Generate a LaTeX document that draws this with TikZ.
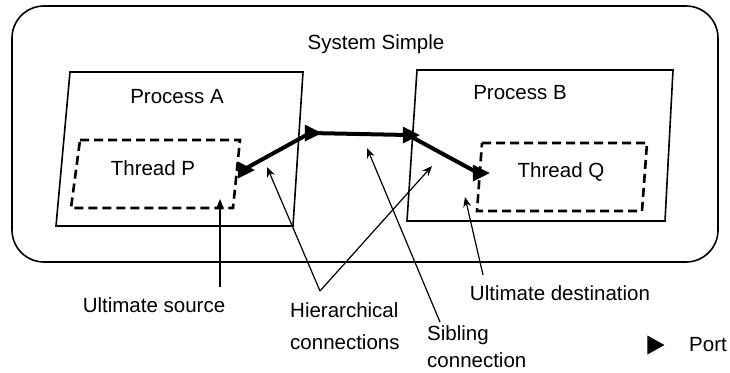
\documentclass[tikz,border=0pt]{standalone}
\usepackage{fontspec}
\setmainfont{Liberation Sans}
\usetikzlibrary{shapes.geometric,arrows.meta}
\tikzset{
    label/.style={inner sep=0pt, font=\fontsize{20.5}{23}\selectfont},
    port/.style={isosceles triangle, isosceles triangle stretches, fill=black,
        inner sep=0pt, minimum width=17pt, minimum height=17pt},
    link/.style={line width=4pt, line join=round},
    note/.style={line width=1.2pt, -{Stealth[length=10pt,width=8pt]}}
}
\begin{document}
\begin{tikzpicture}[x=1pt, y=-1pt]
    \useasboundingbox (0, 0) rectangle (730, 372);
    % system
    \draw [line width=1.6pt, rounded corners=32pt] (12, 6) rectangle (718, 262);
    \node [label] (sys) at (376, 44) {System Simple};
    % process A
    \draw [line width=1.6pt] (70, 72)
    -- (303, 72)
    -- (293, 226)
    -- (56, 226)
    -- cycle;
    \node [label] (procA) at (177, 97) {Process A};
    % thread P
    \draw [line width=2.6pt, dash pattern=on 9pt off 5pt] (80, 140)
    -- (240, 140)
    -- (233, 208)
    -- (71, 208)
    -- cycle;
    \node [label] (thrP) at (153, 168) {Thread P};
    % process B
    \draw [line width=1.6pt] (417, 70)
    -- (673, 70)
    -- (665, 221)
    -- (407, 221)
    -- cycle;
    \node [label] (procB) at (520, 93) {Process B};
    % thread Q
    \draw [line width=2.6pt, dash pattern=on 9pt off 5pt] (482, 143)
    -- (647, 143)
    -- (642, 211)
    -- (477, 211)
    -- cycle;
    \node [label] (thrQ) at (561, 172) {Thread Q};
    % ports
    \node [port] (p1) at (243, 170) {};
    \node [port] (p2) at (310, 133) {};
    \node [port] (p3) at (408, 135) {};
    \node [port] (p4) at (478, 173) {};
    \draw [link] (p1.center) -- (p2.center) -- (p3.center) -- (p4.center);
    % labels
    \node [label] (src) at (154, 305) {Ultimate source};
    \node [label, anchor=west] (hier) at (290, 310) {Hierarchical};
    \node [label, anchor=west] (hierb) at (290, 342) {connections};
    \node [label, anchor=west] (sib) at (427, 335) {Sibling};
    \node [label, anchor=west] (sibb) at (427, 360) {connection};
    \node [label] (dst) at (560, 293) {Ultimate destination};
    \node [port, minimum width=19pt, minimum height=17pt] (legend) at (653, 345) {};
    \node [label] (portlbl) at (708, 345) {Port};
    % annotation arrows
    \coordinate (srcT) at (220, 287);
    \coordinate (srcH) at (220, 199);
    \coordinate (hierT) at (320, 291);
    \coordinate (hierH1) at (267, 167);
    \coordinate (hierH2) at (432, 166);
    \coordinate (sibT) at (440, 322);
    \coordinate (sibH) at (367, 148);
    \coordinate (dstT) at (483, 275);
    \coordinate (dstH) at (465, 197);
    \draw [note] (srcT) -- (srcH);
    \draw [note] (hierT) -- (hierH1);
    \draw [note] (hierT) -- (hierH2);
    \draw [note] (sibT) -- (sibH);
    \draw [note] (dstT) -- (dstH);
\end{tikzpicture}
\end{document}
